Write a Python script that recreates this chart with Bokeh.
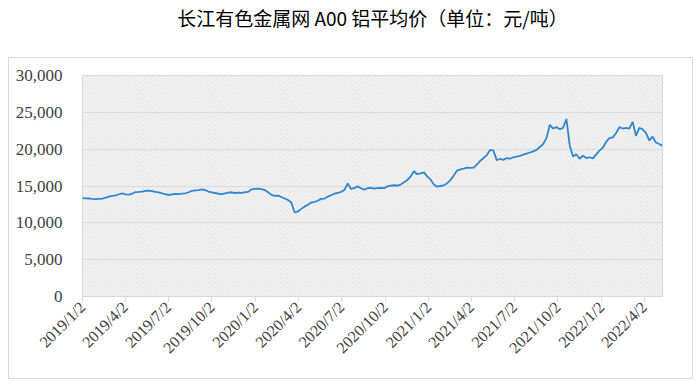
import math
import calendar
from datetime import datetime, timedelta

from bokeh.plotting import figure
from bokeh.models import (Range1d, FixedTicker, NumeralTickFormatter, CustomJSTickFormatter,
                          BoxAnnotation, ColumnDataSource)
from bokeh.embed import file_html
from bokeh.resources import INLINE

# ---- data (weekly readings, yuan/ton) ----
start_date = "2019/1/2"
step_days = 7
prices = [
    13350, 13320, 13300, 13250, 13220, 13260, 13300, 13420, 13560, 13650,
    13720, 13880, 14000, 13850, 13820, 13950, 14180, 14200, 14250, 14330,
    14380, 14300, 14200, 14120, 14000, 13880, 13780, 13850, 13920, 13900,
    13960, 14000, 14150, 14350, 14400, 14450, 14550, 14450, 14250, 14150,
    14050, 13950, 13900, 14000, 14100, 14150, 14050, 14100, 14080, 14150,
    14200, 14550, 14620, 14650, 14580, 14450, 14150, 13800, 13650, 13700,
    13500, 13300, 13100, 12750, 11400, 11550, 11900, 12200, 12450, 12750,
    12850, 13000, 13250, 13300, 13550, 13750, 13950, 14050, 14200, 14450,
    15350, 14600, 14700, 14950, 14700, 14500, 14700, 14750, 14650, 14700,
    14750, 14700, 14950, 15050, 15100, 15050, 15200, 15500, 15800, 16300,
    17000, 16600, 16700, 16850, 16300, 15900, 15200, 14900, 15000, 15100,
    15350, 15800, 16400, 17100, 17250, 17350, 17500, 17450, 17500, 17900,
    18400, 18800, 19200, 19900, 19800, 18500, 18700, 18550, 18800, 18700,
    18900, 19000, 19100, 19250, 19400, 19550, 19700, 19900, 20300, 20700,
    21500, 23300, 22800, 23000, 22700, 22900, 24100, 20500, 19000, 19300,
    18700, 19100, 18800, 18900, 18750, 19300, 19800, 20200, 21000, 21500,
    21600, 22200, 23000, 22800, 22900, 22800, 23700, 21800, 22900, 22700,
    22200, 21200, 21700, 20900, 20700, 20450,
]
tick_labels = ["2019/1/2", "2019/4/2", "2019/7/2", "2019/10/2", "2020/1/2", "2020/4/2",
               "2020/7/2", "2020/10/2", "2021/1/2", "2021/4/2", "2021/7/2", "2021/10/2",
               "2022/1/2", "2022/4/2"]
y_ticks = [0, 5000, 10000, 15000, 20000, 25000, 30000]
title_text = "长江有色金属网 A00 铝平均价（单位：元/吨）"


def to_ms(d):
    return calendar.timegm(d.timetuple()) * 1000


d0 = datetime.strptime(start_date, "%Y/%m/%d")
dates = [d0 + timedelta(days=step_days * i) for i in range(len(prices))]
src = ColumnDataSource(dict(x=dates, y=prices))
tick_ms = [to_ms(datetime.strptime(s, "%Y/%m/%d")) for s in tick_labels]

# top border is made tall enough for the title, then the canvas is shifted up
top_border = 120
shift = top_border - 75
g = "linear-gradient(#d9d9d9,#d9d9d9)"
box_css = (f"{g} 8px {57 + shift}px / 685px 1px no-repeat, "
           f"{g} 8px {378 + shift}px / 685px 1px no-repeat, "
           f"{g} 8px {57 + shift}px / 1px 322px no-repeat, "
           f"{g} 692px {57 + shift}px / 1px 322px no-repeat, white")

p = figure(x_axis_type="datetime", output_backend="svg", toolbar_location=None,
           frame_width=580, frame_height=221,
           min_border_left=82, min_border_right=34, min_border_top=top_border,
           min_border_bottom=90,
           x_range=Range1d(to_ms(dates[0]), to_ms(dates[-1])),
           y_range=Range1d(0, 30000),
           styles={"background": box_css, "margin-top": f"-{shift}px"})
p.background_fill_color = "white"
p.border_fill_color = None
p.outline_line_color = "#d9d9d9"
p.outline_line_width = 1

p.title.text = title_text
p.title.align = "center"
p.title.text_font = "Noto Sans CJK SC"
p.title.text_font_size = "19px"
p.title.text_font_style = "normal"
p.title.text_color = "#000000"
p.title.standoff = 89

hatch = BoxAnnotation(fill_alpha=0, line_color=None, hatch_pattern="\\",
                      hatch_color="#dcdcdc", hatch_weight=1, hatch_scale=4.5,
                      level="underlay")
p.add_layout(hatch)

p.line("x", "y", source=src, line_color="#2f86d1", line_width=1.8)

p.xgrid.grid_line_color = None
p.ygrid.grid_line_color = "#d9d9d9"
p.ygrid.grid_line_width = 1

p.yaxis.ticker = FixedTicker(ticks=y_ticks)
p.yaxis.formatter = NumeralTickFormatter(format="0,0")
p.yaxis.axis_line_color = None
p.yaxis.major_tick_line_color = None
p.yaxis.minor_tick_line_color = None
p.yaxis.major_label_standoff = 14
p.yaxis.major_label_text_font = "Liberation Serif"
p.yaxis.major_label_text_font_size = "17px"
p.yaxis.major_label_text_color = "#404040"

p.xaxis.ticker = FixedTicker(ticks=tick_ms)
p.xaxis.formatter = CustomJSTickFormatter(code="""
const d = new Date(tick);
return d.getUTCFullYear() + '/' + (d.getUTCMonth() + 1) + '/' + d.getUTCDate();
""")
p.xaxis.major_label_orientation = math.pi / 4
p.xaxis.axis_line_color = "#d9d9d9"
p.xaxis.major_tick_line_color = "#d9d9d9"
p.xaxis.major_tick_out = 5
p.xaxis.major_tick_in = 0
p.xaxis.minor_tick_line_color = None
p.xaxis.major_label_standoff = 3
p.xaxis.major_label_text_font = "Liberation Serif"
p.xaxis.major_label_text_font_size = "16px"
p.xaxis.major_label_text_color = "#404040"

with open("out.html", "w") as f:
    f.write(file_html(p, INLINE, title=title_text))
